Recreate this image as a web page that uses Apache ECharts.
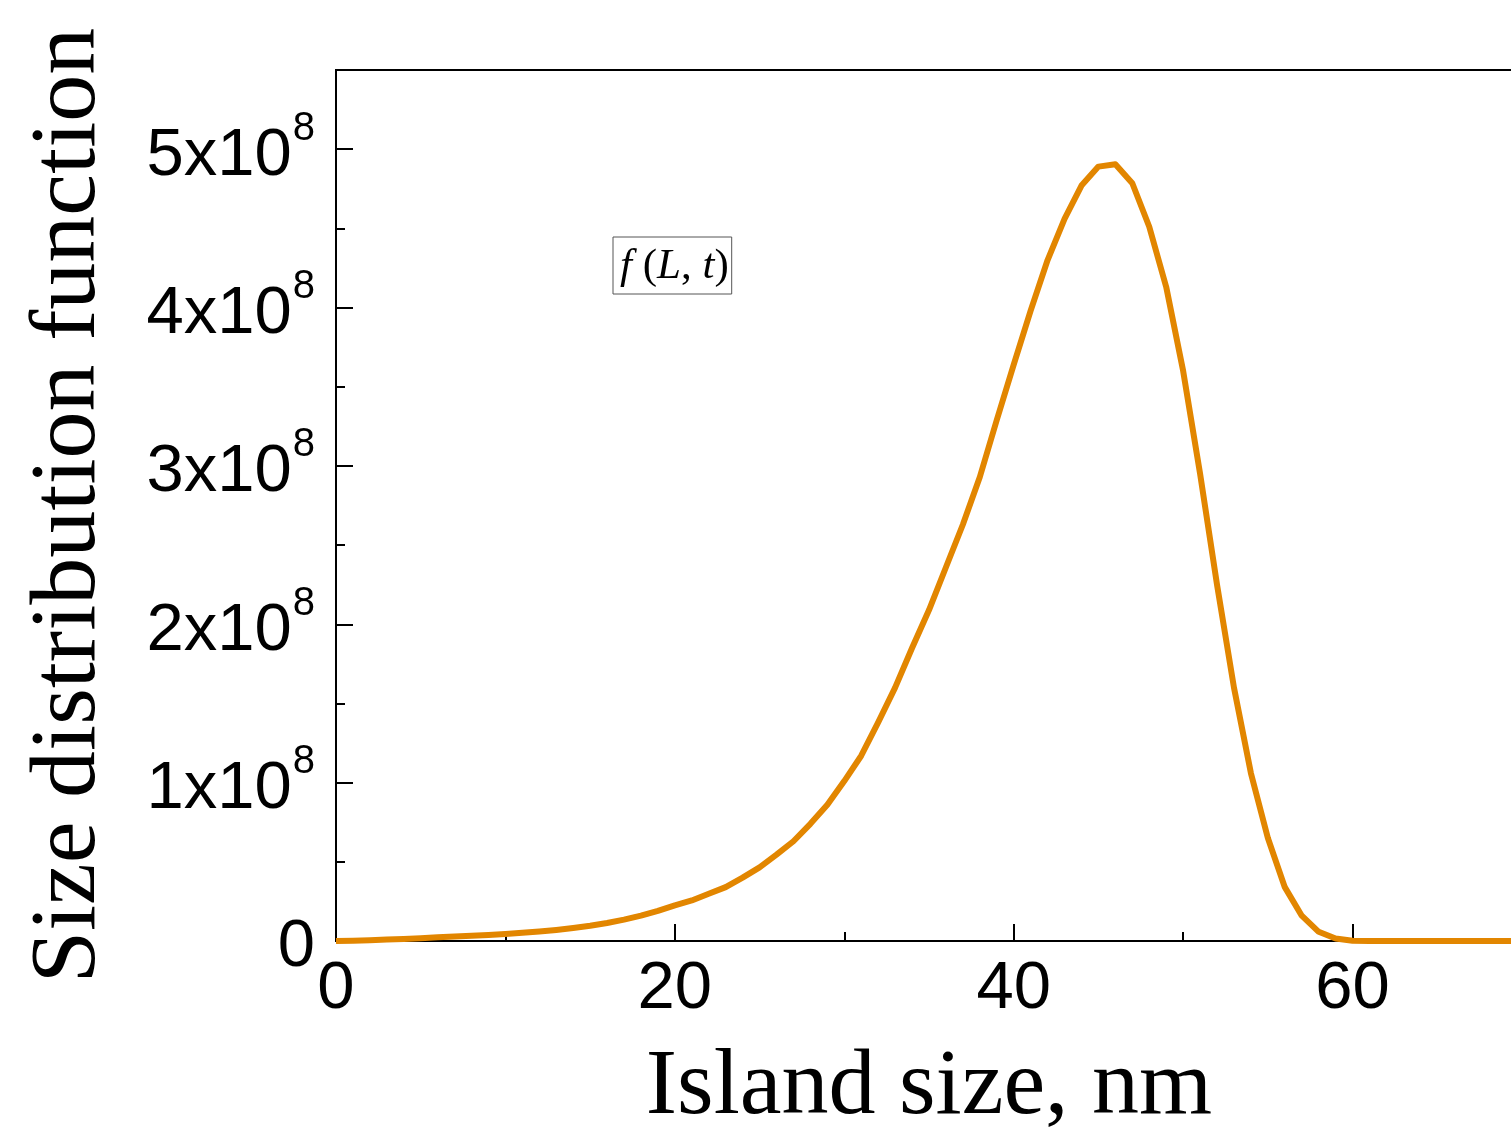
<!DOCTYPE html>
<html>
<head>
<meta charset="utf-8">
<title>Size distribution function</title>
<script src="https://cdn.jsdelivr.net/npm/echarts@6/dist/echarts.min.js"></script>
<style>
  html, body { margin: 0; padding: 0; background: #ffffff; }
  #chart { width: 1511px; height: 1128px; }
</style>
</head>
<body>
<div id="chart"></div>
<script>
// Island sizes L (nm)
const islandSizes = [
  0, 1, 2, 3, 4, 5, 6, 7, 8, 9,
  10, 11, 12, 13, 14, 15, 16, 17, 18, 19,
  20, 21, 22, 23, 24, 25, 26, 27, 28, 29,
  30, 31, 32, 33, 34, 35, 36, 37, 38, 39,
  40, 41, 42, 43, 44, 45, 46, 47, 48, 49,
  50, 51, 52, 53, 54, 55, 56, 57, 58, 59,
  60, 61, 62, 63, 64, 65, 66, 67, 68, 69, 70
];

// f(L, t) in units of 10^8
const distributionE8 = [
  0, 0.002, 0.005, 0.009, 0.013, 0.018, 0.023, 0.028, 0.033, 0.038,
  0.044, 0.052, 0.060, 0.070, 0.082, 0.096, 0.114, 0.135, 0.160, 0.190,
  0.225, 0.256, 0.298, 0.340, 0.400, 0.465, 0.545, 0.630, 0.740, 0.860,
  1.010, 1.170, 1.380, 1.600, 1.850, 2.090, 2.360, 2.630, 2.930, 3.290,
  3.640, 3.980, 4.300, 4.560, 4.770, 4.890, 4.905, 4.785, 4.510, 4.130,
  3.600, 2.950, 2.250, 1.600, 1.060, 0.650, 0.340, 0.160, 0.058, 0.016,
  0.002, 0, 0, 0, 0, 0, 0, 0, 0, 0, 0
];
const E8 = 1e8;

// Axis settings
const xMin = 0, xMax = 70, xMajor = 20, xMinor = 10;
const yMin = 0, yMax = 5.5e8, yMajor = 1e8, yMinor = 0.5e8;
const yTickLabels = ['0', '1', '2', '3', '4', '5'];   // mantissas for n x 10^8

const seriesName = 'f(L, t)';

const lineData = islandSizes.map((L, i) => [L, distributionE8[i] * E8]);

const sansFont = '"Liberation Sans", Arial, sans-serif';
const serifFont = '"Liberation Serif", "Times New Roman", serif';

const chart = echarts.init(document.getElementById('chart'), null, { renderer: 'canvas' });

chart.setOption({
  backgroundColor: '#ffffff',
  animation: false,
  grid: {
    left: 336, top: 70, right: -11, bottom: 187,
    show: true, borderColor: '#000000', borderWidth: 2,
    containLabel: false,
    outerBoundsMode: 'none'
  },
  legend: {
    show: true,
    data: [seriesName],
    left: 613, top: 237,
    icon: 'none',
    itemWidth: 0, itemHeight: 0, itemGap: 0,
    padding: [8, 3, 6, 2],
    borderColor: '#555555', borderWidth: 1,
    formatter: () => '{i|f}{n| (}{i|L}{n|, }{i|t}{n|)}',
    textStyle: {
      rich: {
        i: { fontFamily: serifFont, fontStyle: 'italic', fontSize: 43, color: '#000' },
        n: { fontFamily: serifFont, fontSize: 43, color: '#000' }
      }
    }
  },
  xAxis: [
    {
      type: 'value', min: xMin, max: xMax, interval: xMajor,
      position: 'bottom',
      name: 'Island size, nm', nameLocation: 'middle', nameGap: 100,
      nameTextStyle: { fontFamily: serifFont, fontSize: 94, color: '#000' },
      axisLine: { show: true, lineStyle: { color: '#000', width: 2 } },
      axisTick: { show: true, inside: true, length: 17, lineStyle: { color: '#000', width: 2 } },
      axisLabel: {
        show: true, margin: 15,
        fontFamily: sansFont, fontSize: 67, color: '#000',
        formatter: v => (v % xMajor === 0 ? String(v) : '')
      },
      splitLine: { show: false }
    },
    {
      type: 'value', min: xMin, max: xMax, interval: xMinor,
      position: 'bottom',
      axisLine: { show: false },
      axisTick: { show: true, inside: true, length: 9, lineStyle: { color: '#000', width: 2 } },
      axisLabel: { show: false },
      splitLine: { show: false }
    }
  ],
  yAxis: [
    {
      type: 'value', min: yMin, max: yMax, interval: yMajor,
      position: 'left',
      name: 'Size distribution function', nameLocation: 'middle', nameGap: 220,
      nameTextStyle: { fontFamily: serifFont, fontSize: 94, color: '#000' },
      axisLine: { show: true, lineStyle: { color: '#000', width: 2 } },
      axisTick: { show: true, inside: true, length: 17, lineStyle: { color: '#000', width: 2 } },
      axisLabel: {
        show: true, margin: 21,
        fontFamily: sansFont, fontSize: 67, color: '#000',
        formatter: v => {
          const k = Math.round(v / yMajor);
          if (Math.abs(v - k * yMajor) > 1 || k >= yTickLabels.length) return '';
          if (k === 0) return '{b|0}';
          return '{b|' + yTickLabels[k] + 'x10}{s|8}';
        },
        rich: {
          b: { fontFamily: sansFont, fontSize: 67, color: '#000', padding: [14, 0, 0, 0] },
          s: { fontFamily: sansFont, fontSize: 40, color: '#000', verticalAlign: 'top', padding: [0, 0, 0, 1] }
        }
      },
      splitLine: { show: false }
    },
    {
      type: 'value', min: yMin, max: yMax, interval: yMinor,
      position: 'left',
      axisLine: { show: false },
      axisTick: { show: true, inside: true, length: 9, lineStyle: { color: '#000', width: 2 } },
      axisLabel: { show: false },
      splitLine: { show: false }
    }
  ],
  series: [
    {
      name: seriesName,
      type: 'line',
      xAxisIndex: 0, yAxisIndex: 0,
      data: lineData,
      showSymbol: false,
      symbol: 'none',
      smooth: false,
      clip: true,
      lineStyle: { color: '#E28600', width: 6, join: 'round' },
      itemStyle: { color: '#E28600' }
    }
  ]
});
</script>
</body>
</html>
